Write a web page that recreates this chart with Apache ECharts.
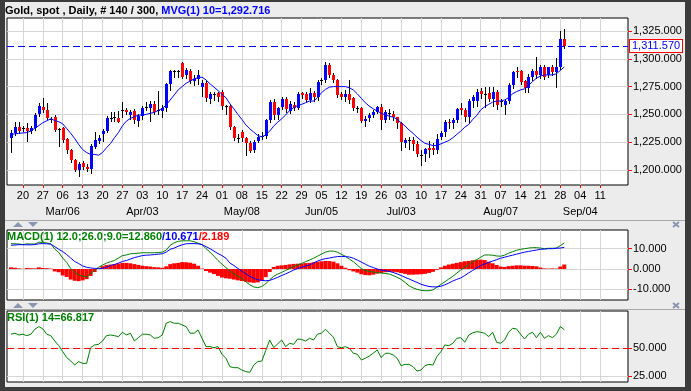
<!DOCTYPE html>
<html><head><meta charset="utf-8">
<script src="https://cdn.jsdelivr.net/npm/echarts@6/dist/echarts.min.js"></script>
<style>html,body{margin:0;padding:0;background:#ececec;}#c{width:691px;height:391px;}</style>
</head><body><div id="c"></div>
<script>
// ---- categories (weekdays; first slot is blank, last ones after data are blank) ----
const categories = ['02-14','02-15','02-16','02-17',
'02-20','02-21','02-22','02-23','02-24','02-27','02-28','03-01','03-02','03-03',
'03-06','03-07','03-08','03-09','03-10','03-13','03-14','03-15','03-16','03-17',
'03-20','03-21','03-22','03-23','03-24','03-27','03-28','03-29','03-30','03-31',
'04-03','04-04','04-05','04-06','04-07','04-10','04-11','04-12','04-13','04-14',
'04-17','04-18','04-19','04-20','04-21','04-24','04-25','04-26','04-27','04-28',
'05-01','05-02','05-03','05-04','05-05','05-08','05-09','05-10','05-11','05-12',
'05-15','05-16','05-17','05-18','05-19','05-22','05-23','05-24','05-25','05-26',
'05-29','05-30','05-31','06-01','06-02','06-05','06-06','06-07','06-08','06-09',
'06-12','06-13','06-14','06-15','06-16','06-19','06-20','06-21','06-22','06-23',
'06-26','06-27','06-28','06-29','06-30','07-03','07-04','07-05','07-06','07-07',
'07-10','07-11','07-12','07-13','07-14','07-17','07-18','07-19','07-20','07-21',
'07-24','07-25','07-26','07-27','07-28','07-31','08-01','08-02','08-03','08-04',
'08-07','08-08','08-09','08-10','08-11','08-14','08-15','08-16','08-17','08-18',
'08-21','08-22','08-23','08-24','08-25','08-28','08-29','08-30','08-31','09-01',
'09-04','09-05','09-06','09-07','09-08','09-11','09-12','09-13','09-14','09-15',
'09-18','09-19','09-20'];
const tickDates = ['02-20','02-27','03-06','03-13','03-20','03-27','04-03','04-10','04-17','04-24',
'05-01','05-08','05-15','05-22','05-29','06-05','06-12','06-19','06-26','07-03','07-10','07-17',
'07-24','07-31','08-07','08-14','08-21','08-28','09-04','09-11'];
const monthLabels = {'03-06':'Mar/06','04-03':'Apr/03','05-08':'May/08','06-05':'Jun/05',
'07-03':'Jul/03','08-07':'Aug/07','09-04':'Sep/04'};
const firstBarSlot = 1;

// ---- price data (Feb 15 .. Aug 29) ----
const opens = [1229,1233.5,1239,1237.5,1238,1235,1238,1250,1257,1254,1245.5,1248,1237,1238,1228,1218,1208.7,1199.7,1206.6,1202.7,
1200.6,1221,1226.5,1232,1235,1247,1247,1246.4,1254,1254,1249.5,1253,1244.3,1248.5,1256.8,1256,1259,1253,1253,1256,
1277,1288.6,1288.6,1296,1285.5,1289,1280,1282,1275,1278,1264,1268.5,1269,1270,1257.6,1257.5,1238.5,1228,1234.5,1229,
1224.5,1218,1226,1230.8,1231,1245,1261.2,1249.5,1257,1264,1253,1258.5,1256,1268.8,1268.5,1263,1269,1265.5,1280.5,1281,
1294.5,1285.5,1281,1268,1266,1268,1264.5,1256,1256,1244.5,1246.4,1249.4,1252.4,1256.9,1244.9,1251,1250.3,1247.3,1241.9,1224.5,
1226.5,1226.8,1223.5,1213.8,1214,1219.5,1219.5,1217.8,1230,1234,1243.4,1242,1245,1256,1254,1248,1262,1262,1271,1268.2,
1269,1264,1270.5,1261.5,1258.4,1262,1276.5,1289.2,1289,1280,1274,1284,1289,1285,1293,1285.5,1292.2,1288.5,1293,1318];
const highs = [1236,1243,1243,1240,1242,1240,1251,1260,1265,1260,1248,1249.5,1238,1239,1229,1219,1210,1207,1208,1205.7,
1223,1234,1231.3,1237,1248.5,1251.8,1252.4,1253,1261.4,1256,1254,1255,1250,1258,1261.4,1262,1262,1271,1258.5,1278,
1289.5,1290,1290,1297.5,1292,1291,1285,1290,1281,1281,1270,1270.5,1270,1272,1258.5,1258.5,1239.5,1232,1236,1230,
1226,1227,1232,1234,1246,1263,1264,1257,1266,1265.5,1262,1261,1270,1270.5,1270,1274,1271,1281,1283,1297.5,
1296,1287,1282,1270,1272,1281,1266,1258,1257,1249,1251,1254,1258,1259,1254,1255,1253,1248,1243,1228.5,
1230,1230,1226,1218,1220,1226,1224,1232,1235,1245,1246,1247,1256,1260,1256,1263.5,1267,1273,1274,1275,
1275,1275,1272,1264,1264,1278,1289,1293,1290,1281,1286,1291,1302,1294,1294.5,1293,1294,1300.6,1325,1327];
const lows = [1216,1231.5,1233,1235,1226,1233.5,1236,1249,1252.5,1245.5,1243,1235,1222,1225,1215,1207,1198.8,1195,1201,1198.8,
1197.5,1219.5,1224.7,1226,1234.3,1244,1244,1242.8,1248,1250,1246,1242,1240,1246,1254,1244,1250,1250,1248,1253,
1272,1284,1284,1283,1283,1278,1276,1277,1266.5,1262,1260,1263,1262,1255,1250,1237,1227,1225,1226,1213.5,
1216,1216,1225,1228,1229,1243,1246,1246,1255,1252,1251,1254,1255,1265,1261,1261,1262,1263,1277,1279,
1284,1279,1266,1264,1262,1260,1254,1252,1243,1240,1244,1248,1251,1237,1243,1246,1245,1238,1218,1221,
1219,1218,1212.5,1204.5,1208,1212,1214,1215,1228,1231,1238,1238,1243,1250,1244,1243,1257,1258,1265,1257,
1262,1258,1255,1258,1250,1260,1274,1284,1277,1270,1270,1281,1283,1283,1282,1284,1285,1275,1291,1310];
const closes = [1233.5,1239,1235,1237.3,1235,1238,1249.5,1257.8,1254,1246.5,1246,1236,1236,1227,1218,1208.7,1199.7,1205.7,1202.7,1200.6,
1221.7,1226.8,1229,1235,1247,1247.2,1247.3,1243.4,1254.2,1251.8,1252.3,1245,1248.5,1256,1257,1259,1252.4,1253.6,1255.5,1277,
1288.6,1288.7,1289,1284,1290,1280,1282,1285,1278.5,1264.5,1268.5,1267.5,1265.5,1257.5,1257.6,1238.5,1228.5,1228.5,1229,1224,
1217.5,1225.5,1229.5,1231,1245,1261.2,1249.5,1255.5,1264,1255,1259.5,1256,1268,1267.7,1263,1269,1265.5,1279.5,1280.7,1294.5,
1285.5,1281,1267.5,1266,1268,1263,1256,1255.7,1244.5,1246.3,1249.4,1252.4,1256.9,1244.9,1252.4,1250,1247.3,1241.9,1225.3,1227,
1226.7,1223.5,1214,1213.6,1218.7,1218.3,1217.8,1228.3,1233.5,1243.4,1242,1245,1254.5,1253.8,1248,1262,1265.5,1270.5,1268.4,1268,
1264,1270.5,1258.5,1262,1262,1276.5,1288,1288,1279.5,1273.5,1284,1289,1285,1293,1284,1292.2,1288,1292.2,1318,1311.57];
const ma10 = [1232,1232.5,1233,1233.3,1233.7,1235,1237.5,1240,1242.5,1244.3,1246,1244.5,1243.4,1241.5,1237.3,1233,1228.3,1223,1218.4,1215.7,
1214,1214,1213.3,1215.7,1220,1223.8,1229,1233.7,1239.8,1244,1246.4,1248,1249.4,1249.4,1250,1251,1251.8,1253.5,1255.4,1258.4,
1263,1267.5,1272,1275,1278,1280,1282,1283,1283.5,1281,1277.5,1274.5,1271.5,1268,1265,1259.5,1255,1250,1245.5,1240.5,
1237,1234,1231,1229.8,1231.5,1235,1239.5,1243,1246,1249.5,1253.5,1256,1258,1259,1260.5,1262,1262,1265,1269.5,1272.5,
1274.5,1275,1275,1275,1275,1274,1272,1268.5,1264.5,1260.5,1257.5,1255,1253,1251,1249.5,1248.5,1247.5,1245.5,1242.5,1239.5,
1236,1233,1229.5,1226.5,1224,1223,1222,1222,1223.5,1225,1226.5,1229,1232,1235,1238.5,1241,1245.5,1249,1254,1257,
1259,1261,1262,1262,1263,1265,1268.5,1270.5,1272,1273,1276,1279.5,1282.5,1284.5,1285.5,1285.5,1285.5,1286.5,1289.5,1292.716];
const lastPrice = 1311.57;

// ---- MACD(12,26,9) ----
const macdLine = [12.5,12.4,12.3,12.0,12.4,12.3,12.3,13.2,13.0,12.8,12.4,9.8,8.1,5.4,3.2,0.2,-1.5,-2.9,-3.6,-3.9,
-2.2,-0.7,0.85,1.9,2.9,3.6,4.2,5.4,6.6,6.9,7.5,7.6,7.8,8.0,8.0,8.0,8.0,8.1,8.3,9.3,
11.7,12.9,13.6,13.9,13.9,13.9,13.4,12.7,12.0,10.0,8.3,6.3,4.2,2.4,0.7,-1.0,-2.4,-3.6,-4.7,-6.3,
-7.8,-8.8,-9.2,-8.6,-7.3,-5.3,-3.6,-2.5,-1.7,-0.7,0.2,1.2,2.0,2.7,3.6,4.4,5.3,6.3,7.3,8.3,
8.8,8.8,8.3,7.2,6.3,4.9,3.6,1.9,0.2,-0.7,-1.2,-1.5,-1.7,-2.0,-2.2,-2.5,-3.2,-4.1,-5.1,-6.6,
-8.3,-9.3,-10.0,-10.5,-10.7,-10.7,-10.3,-9.0,-7.6,-6.3,-4.9,-3.6,-2.0,-0.5,0.85,2.2,3.6,4.6,5.8,6.9,
6.9,6.8,6.4,6.3,6.8,7.8,8.5,9.2,9.7,10.0,10.3,10.5,10.5,10.3,10.0,10.2,10.2,10.3,11.5,12.86];
const signalLine = [11.7,11.8,12.0,11.95,11.9,11.9,12.0,12.4,12.5,12.4,12.2,11.0,9.7,8.6,7.1,5.4,3.7,2.7,1.5,0.85,
0.5,0.3,0.3,0.3,0.85,1.7,2.2,2.9,3.7,4.2,4.9,5.6,6.1,6.6,6.8,6.9,7.1,7.3,7.5,8.3,
9.7,10.3,11.2,11.9,12.4,12.5,12.5,12.4,12.0,11.0,10.0,8.8,7.6,6.6,5.3,2.9,1.7,0.3,-1.0,-2.4,
-3.6,-4.6,-5.3,-5.6,-5.8,-5.6,-4.9,-4.1,-3.2,-2.4,-1.5,-0.5,0.2,0.85,1.4,2.0,2.9,3.9,4.6,5.1,
5.4,5.8,6.1,6.2,6.1,5.9,5.3,4.4,3.4,2.4,1.4,0.7,0.0,-0.5,-0.85,-1.2,-1.7,-2.4,-3.2,-4.1,
-4.9,-5.8,-6.6,-7.5,-8.1,-8.6,-8.8,-8.8,-8.5,-7.8,-6.9,-5.9,-5.1,-4.4,-3.2,-1.9,-0.7,0.5,1.7,2.5,
3.2,3.9,4.6,5.3,5.8,6.3,6.8,7.3,7.8,8.3,8.6,9.0,9.3,9.7,9.8,10.0,10.0,10.2,10.3,10.671];
const macdHist = [0.8,0.6,0.3,0.1,0.5,0.4,0.3,0.8,0.5,0.4,0.2,-1.2,-1.6,-3.2,-3.9,-5.2,-5.8,-6.0,-5.6,-5.0,
-3.4,-1.5,0.4,1.4,2.0,2.2,2.4,2.7,3.0,3.0,2.8,2.4,2.0,1.6,1.4,1.2,0.9,0.8,0.6,1.3,
2.4,2.8,3.0,3.4,3.3,3.1,2.6,1.6,0.2,-1.0,-1.8,-2.5,-3.4,-4.2,-4.6,-4.8,-5.2,-5.6,-5.9,-6.3,
-6.6,-6.8,-6.6,-5.8,-4.0,-1.5,1.0,1.6,1.8,2.0,2.3,2.5,2.6,2.7,2.9,3.0,3.3,3.6,3.8,4.0,
3.9,3.6,2.8,1.6,0.6,-0.6,-1.2,-1.8,-2.6,-3.0,-3.1,-2.8,-2.3,-2.0,-1.6,-1.4,-1.4,-1.6,-2.0,-2.4,
-2.8,-2.8,-2.7,-2.6,-2.4,-2.0,-1.4,-0.4,0.8,1.6,2.2,2.6,3.0,3.4,3.8,4.0,4.3,4.5,4.6,4.4,
3.6,2.8,2.0,1.2,1.0,1.4,1.6,1.8,1.8,1.6,1.6,1.5,1.3,0.7,0.3,0.2,0.3,0.2,1.2,2.189];

// ---- RSI(14) ----
const rsi = [62.7,63.6,62,62.7,61.4,62.7,67.2,69.6,67.5,62.7,61.4,56.6,52.4,47,41.6,38.6,34.9,38,36.4,36.4,
50.6,53,53.6,56.6,61.4,62,61.4,60.5,64.5,62,63.6,56.6,59.6,62.7,62.7,62,59,59.6,62,72.6,
74.1,72.6,72.6,71.1,69.6,63.6,63.6,66.6,59,51.5,51.5,50.6,51.5,44.6,41,33.4,32.5,32.5,30.4,28.9,
28.3,34.9,38,38.5,48,57.5,50.6,54,57.5,51.5,54.5,53.6,58.4,58,56.5,59,57.5,62.7,63.6,67.2,
63.6,60,51.5,50.5,51.5,50,45.5,44.6,39.5,41,43,45.5,48.5,41.6,45.5,45.5,44,41,34.3,35.5,
35.5,33.4,29.5,30.4,34.3,35.5,34.9,42.5,47,53,52.4,54.5,59,59.6,55.4,62,64,65,64.5,63.5,
60.5,64.5,55.4,54.5,57.5,64.5,68,67.5,62.7,58.4,62.7,64.5,59.6,64.5,59,61.4,59.6,62.7,69.6,66.817];

const priceTicks = [1200,1225,1250,1275,1300,1325];
const macdTicks = [-10,0,10];
const rsiTicks = [25,50];
const rsiMid = 50;

// ---------------------------------------------------------------
const FONT = '"Liberation Sans", Arial, sans-serif';
const FS = 11;
const tickSet = new Set(tickDates);
const isTick = (i, v) => tickSet.has(v);
const isMonth = (i, v) => Object.prototype.hasOwnProperty.call(monthLabels, v);
const fmt3 = v => Number(v).toLocaleString('en-US',{minimumFractionDigits:3,maximumFractionDigits:3});
const at = arr => arr.map((v, i) => [i + firstBarSlot, v]);
const candleData = opens.map((o, i) => [i + firstBarSlot, o, closes[i], lows[i], highs[i]]);

const GRIDS = [
  {left:7, width:621, top:18, height:167},
  {left:7, width:621, top:230, height:70},
  {left:7, width:621, top:311, height:71}
];
const GRID_LINE = '#d6d6d6';

const boxLabel = (txt) => ({
  show:true, position:'end', distance:2, formatter: txt,
  color:'#0000ff', fontSize:FS, fontFamily:FONT,
  backgroundColor:'#ffffff', borderColor:'#ff0000', borderWidth:1,
  padding:[1,2,0,2], width:48, align:'left'
});

function yAxisFor(g, min, max, ticks){
  return {
    type:'value', gridIndex:g, position:'right', min:min, max:max, scale:true,
    axisLine:{show:false},
    axisTick:{show:true, customValues:ticks, length:4, lineStyle:{color:'#ff0000', width:1}},
    axisLabel:{show:true, customValues:ticks, formatter:v=>fmt3(v), color:'#000', fontSize:FS, fontFamily:FONT, margin:5},
    splitLine:{show:true, customValues:ticks, lineStyle:{color:GRID_LINE, width:1}}
  };
}

function xAxisFor(g){
  const main = g === 0;
  return {
    type:'category', gridIndex:g, data:categories, boundaryGap:false,
    axisLine:{show:false},
    axisTick:{show:main, interval:isTick, length:3, lineStyle:{color:'#ff0000'}},
    axisLabel:{show:main, interval:isTick, color:'#000', fontSize:FS, fontFamily:FONT, margin:3, lineHeight:16,
      hideOverlap:false, formatter:(v)=>v.slice(3)},
    splitLine:{show:true, interval:isTick, lineStyle:{color:GRID_LINE, width:1}}
  };
}
const monthAxis = {
  type:'category', gridIndex:0, data:categories, boundaryGap:false, position:'bottom', offset:16,
  axisLine:{show:false}, axisTick:{show:false}, splitLine:{show:false},
  axisLabel:{show:true, interval:isMonth, color:'#000', fontSize:FS, fontFamily:FONT, margin:3, lineHeight:16,
    hideOverlap:false, formatter:(v)=>monthLabels[v] || ''}
};

const chart = echarts.init(document.getElementById('c'), null, {renderer:'canvas'});
const option = {
  animation:false,
  backgroundColor:'#ececec',
  title:[
    {left:5, top:5, padding:0, text:'{a|Gold, spot , Daily, # 140 / 300, }{b|MVG(1) 10=1,292.716}',
      textStyle:{rich:{a:{color:'#000',fontSize:FS,fontFamily:FONT}, b:{color:'#0000ff',fontSize:FS,fontFamily:FONT}}}},
    {left:7, top:231, padding:0, text:'{g|MACD(1) 12.0;26.0;9.0=12.860}{b|/10.671}{r|/2.189}',
      textStyle:{rich:{g:{color:'#008000',fontSize:FS,fontFamily:FONT}, b:{color:'#0000ff',fontSize:FS,fontFamily:FONT}, r:{color:'#ff0000',fontSize:FS,fontFamily:FONT}}}},
    {left:7, top:312, padding:0, text:'{g|RSI(1) 14=66.817}',
      textStyle:{rich:{g:{color:'#008000',fontSize:FS,fontFamily:FONT}}}}
  ],
  grid: GRIDS.map(g => Object.assign({show:true, backgroundColor:'#ffffff', borderColor:'#000000', borderWidth:1, containLabel:false}, g)),
  xAxis:[xAxisFor(0), xAxisFor(1), xAxisFor(2), monthAxis],
  yAxis:[yAxisFor(0, 1186.5, 1336.7, priceTicks), yAxisFor(1, -15.27, 19.2, macdTicks), yAxisFor(2, 19.58, 83.66, rsiTicks)],
  series:[
    {
      name:'candles', type:'custom', xAxisIndex:0, yAxisIndex:0, data:candleData,
      encode:{x:0, y:[1,2,3,4]}, z:3,
      renderItem:function(params, api){
        const x = api.value(0), o = api.value(1), c = api.value(2), l = api.value(3), h = api.value(4);
        const po = api.coord([x, o]), pc = api.coord([x, c]), pl = api.coord([x, l]), ph = api.coord([x, h]);
        const cx = Math.round(po[0]) + 0.5;
        const top = Math.min(po[1], pc[1]), bot = Math.max(po[1], pc[1]);
        const kids = [{type:'line', shape:{x1:cx, y1:Math.round(ph[1]), x2:cx, y2:Math.round(pl[1])+1}, style:{stroke:'#000', lineWidth:1}}];
        if (bot - top < 1.2) {
          const yy = Math.round(top) + 0.5;
          kids.push({type:'line', shape:{x1:cx-1.5, y1:yy, x2:cx+1.5, y2:yy}, style:{stroke:'#000', lineWidth:1}});
        } else {
          kids.push({type:'rect', shape:{x:cx-1.5, y:Math.round(top), width:3, height:Math.max(1, Math.round(bot)-Math.round(top))},
            style:{fill: c >= o ? '#0000ff' : '#ff0000'}});
        }
        return {type:'group', children:kids};
      }
    },
    {
      name:'MVG10', type:'line', xAxisIndex:0, yAxisIndex:0, data:at(ma10), showSymbol:false, z:4,
      lineStyle:{color:'#0000ff', width:1}, silent:true,
      markLine:{symbol:'none', silent:true, animation:false, data:[{yAxis:lastPrice}],
        lineStyle:{color:'#0000ff', width:1, type:[7,4]}, label:boxLabel(fmt3(lastPrice))}
    },
    {
      name:'hist', type:'bar', xAxisIndex:1, yAxisIndex:1, data:at(macdHist), barWidth:'100%', barGap:'0%',
      itemStyle:{color:'#ff0000'}, silent:true, z:2
    },
    {
      name:'macd', type:'line', xAxisIndex:1, yAxisIndex:1, data:at(macdLine), showSymbol:false, z:3,
      lineStyle:{color:'#008000', width:1}, silent:true,
      markLine:{symbol:'none', silent:true, animation:false, data:[{yAxis:macdLine[macdLine.length-1]}],
        lineStyle:{opacity:0}, label:boxLabel(fmt3(macdLine[macdLine.length-1]))}
    },
    {
      name:'signal', type:'line', xAxisIndex:1, yAxisIndex:1, data:at(signalLine), showSymbol:false, z:4,
      lineStyle:{color:'#0000ff', width:1}, silent:true
    },
    {
      name:'rsi', type:'line', xAxisIndex:2, yAxisIndex:2, data:at(rsi), showSymbol:false, z:4,
      lineStyle:{color:'#008000', width:1}, silent:true,
      markLine:{symbol:'none', silent:true, animation:false,
        data:[{yAxis:rsiMid, lineStyle:{color:'#ff0000', width:1, type:[7,4]}, label:{show:false}},
              {yAxis:rsi[rsi.length-1], lineStyle:{opacity:0}, label:boxLabel(fmt3(rsi[rsi.length-1]))}]}
    }
  ],
  graphic:[
    {type:'line', shape:{x1:5, y1:220.5, x2:685, y2:220.5}, style:{stroke:'#a8a8a8', lineWidth:1}},
    {type:'line', shape:{x1:5, y1:309.5, x2:685, y2:309.5}, style:{stroke:'#a8a8a8', lineWidth:1}},
    {type:'polygon', shape:{points:[[13,227],[23,227],[18,222]]}, style:{fill:'#8896b0'}},
    {type:'polygon', shape:{points:[[28,222],[38,222],[33,227]]}, style:{fill:'#8896b0'}},
    {type:'polygon', shape:{points:[[13,308],[23,308],[18,303]]}, style:{fill:'#8896b0'}},
    {type:'polygon', shape:{points:[[28,303],[38,303],[33,308]]}, style:{fill:'#8896b0'}},
    {type:'line', shape:{x1:673, y1:222, x2:679, y2:227}, style:{stroke:'#8896b0', lineWidth:2}},
    {type:'line', shape:{x1:679, y1:222, x2:673, y2:227}, style:{stroke:'#8896b0', lineWidth:2}},
    {type:'line', shape:{x1:673, y1:303, x2:679, y2:308}, style:{stroke:'#8896b0', lineWidth:2}},
    {type:'line', shape:{x1:679, y1:303, x2:673, y2:308}, style:{stroke:'#8896b0', lineWidth:2}},
    {type:'rect', shape:{x:0, y:0, width:5, height:391}, style:{fill:'#3c3c3c'}},
    {type:'rect', shape:{x:0, y:0, width:691, height:2}, style:{fill:'#3c3c3c'}},
    {type:'rect', shape:{x:685, y:0, width:6, height:391}, style:{fill:'#3c3c3c'}},
    {type:'rect', shape:{x:0, y:387, width:691, height:4}, style:{fill:'#3c3c3c'}}
  ]
};
chart.setOption(option);
</script>
</body></html>
